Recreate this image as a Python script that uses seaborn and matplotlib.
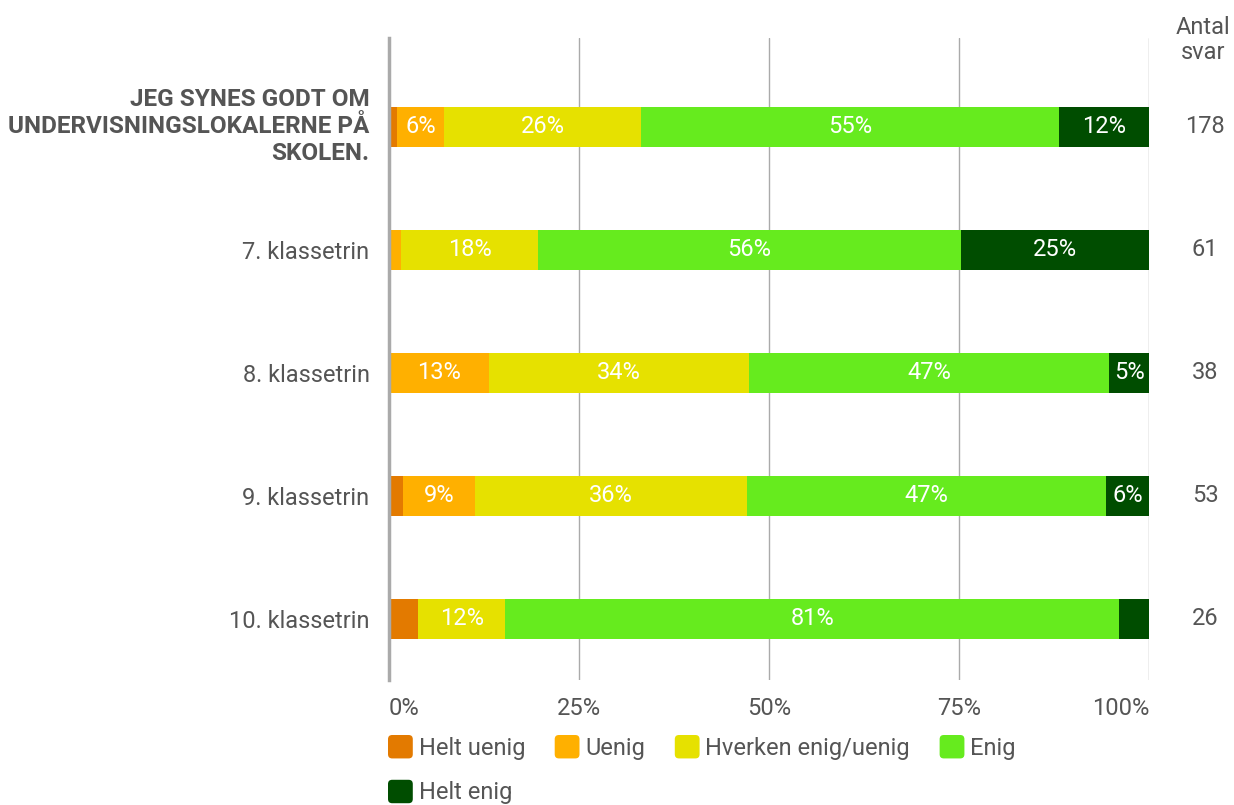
import matplotlib
matplotlib.use("Agg")
import matplotlib.pyplot as plt
import seaborn as sns
import pandas as pd
import numpy as np
from matplotlib.patches import FancyBboxPatch, Patch
from matplotlib.legend_handler import HandlerPatch
from matplotlib.transforms import blended_transform_factory

categories = ["JEG SYNES GODT OM\nUNDERVISNINGSLOKALERNE PÅ\nSKOLEN.",
              "7. klassetrin", "8. klassetrin", "9. klassetrin", "10. klassetrin"]
series = ["Helt uenig", "Uenig", "Hverken enig/uenig", "Enig", "Helt enig"]
helt_uenig = [1.1, 0.0, 0.0, 1.9, 3.8]
uenig = [6.2, 1.6, 13.2, 9.4, 0.0]
hverken = [25.8, 18.0, 34.2, 35.8, 11.5]
enig = [55.1, 55.7, 47.4, 47.2, 80.8]
helt_enig = [11.8, 24.7, 5.3, 5.7, 3.9]
antal_svar = [178, 61, 38, 53, 26]
colors = ["#E37A00", "#FFB000", "#E6E100", "#66EB1E", "#004D00"]
TXT = "#555555"
FS = 17

sns.set_theme(style="white")
plt.rcParams['font.family'] = ['Roboto', 'DejaVu Sans']

values = [helt_uenig, uenig, hverken, enig, helt_enig]
df = pd.DataFrame({s: v for s, v in zip(series, values)})
df["cat"] = categories
cum = df[series].cumsum(axis=1)

fig = plt.figure(figsize=(12.34, 8.05), dpi=100)
ax = fig.add_axes([389/1234, 1-680/805, (1149-389)/1234, (680-38)/805])

bar_h = 40/123
for i in range(len(series)-1, -1, -1):
    d = pd.DataFrame({"cat": categories, "val": cum[series[i]].values})
    sns.barplot(data=d, x="val", y="cat", orient="h", color=colors[i],
                width=bar_h, ax=ax, saturation=1, linewidth=0, order=categories)

# segment labels
for r in range(len(categories)):
    left = 0
    for i, s in enumerate(series):
        v = df.loc[r, s]
        if v >= 5:
            ax.text(left + v/2, r, f"{round(v):d}%", ha="center", va="center",
                    color="white", fontsize=FS)
        left += v

ax.set_xlim(0, 100)
ax.set_ylim(4.5, -0.72)
ax.set_xticks([0, 25, 50, 75, 100])
ax.set_xticklabels(["0%", "25%", "50%", "75%", "100%"], color=TXT, fontsize=FS)
xl = ax.get_xticklabels()
xl[0].set_horizontalalignment("left")
xl[-1].set_horizontalalignment("right")
ax.xaxis.grid(True, color="#AAAAAA", linewidth=1)
ax.set_axisbelow(True)
for sp in ["top", "right", "bottom"]:
    ax.spines[sp].set_visible(False)
ax.spines["left"].set_color("#AAAAAA")
ax.spines["left"].set_linewidth(2.5)
ax.set_xlabel("")
ax.set_ylabel("")
ax.tick_params(axis="x", length=0, pad=12)
ax.tick_params(axis="y", length=0, pad=14)
ax.set_yticks(range(len(categories)))
ax.set_yticklabels(categories, color=TXT, fontsize=FS)
lbls = ax.get_yticklabels()
lbls[0].set_fontweight("bold")
lbls[0].set_fontsize(17.5)
lbls[0].set_multialignment("right")
lbls[0].set_linespacing(1.22)
lbls[0].set_verticalalignment("center")

# Antal svar column
tr = blended_transform_factory(fig.transFigure, ax.transData)
for r, n in enumerate(antal_svar):
    ax.text(1205/1234, r, str(n), transform=tr, ha="center", va="center",
            color=TXT, fontsize=FS)
fig.text(1203/1234, 1-40/805, "Antal\nsvar", ha="center", va="center",
         color=TXT, fontsize=FS, linespacing=1.15)


class RoundHandler(HandlerPatch):
    def create_artists(self, legend, orig_handle, xdescent, ydescent,
                       width, height, fontsize, trans):
        p = FancyBboxPatch((-xdescent, -ydescent), width, height,
                           boxstyle="round,pad=0,rounding_size=3",
                           facecolor=orig_handle.get_facecolor(),
                           edgecolor="none", transform=trans)
        return [p]


handles = [Patch(facecolor=c) for c in colors]
order = [0, 4, 1, 2, 3]
leg = fig.legend([handles[k] for k in order], [series[k] for k in order],
                 loc="upper left", ncol=4,
                 bbox_to_anchor=(388/1234, 1-735/805), frameon=False,
                 fontsize=FS, handlelength=1.05, handleheight=1.15,
                 handletextpad=0.25, columnspacing=1.25, labelspacing=0.85,
                 borderpad=0, borderaxespad=0, labelcolor=TXT,
                 handler_map={Patch: RoundHandler()})

fig.savefig("out.png", dpi=100)
